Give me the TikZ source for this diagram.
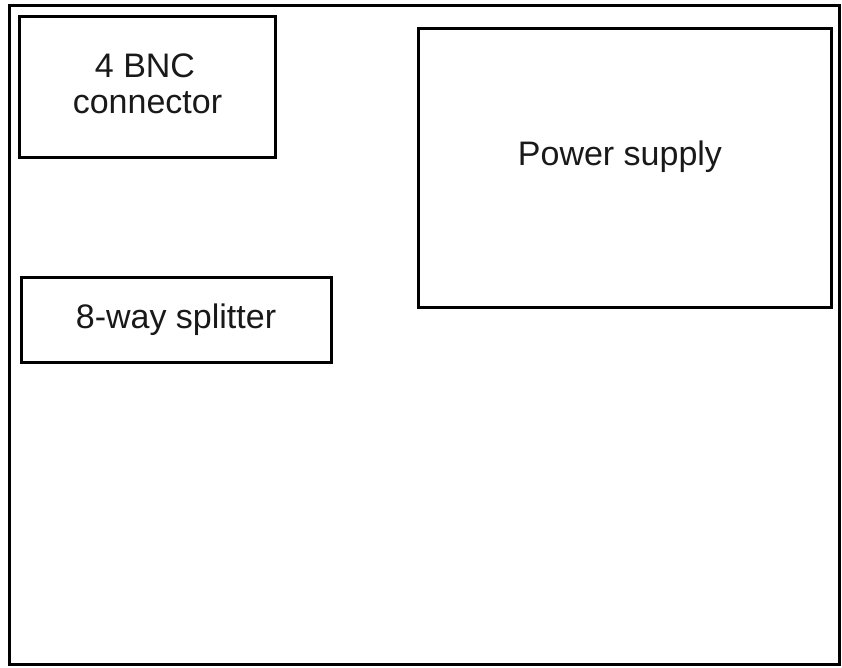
\documentclass[tikz,border=0pt]{standalone}
\usepackage{fontspec}
\setmainfont{Liberation Sans}
\begin{document}
\begin{tikzpicture}[x=1pt,y=-1pt,
  frame/.style={draw=black,line width=3pt},
  box/.style={draw=black,line width=3pt,fill=none},
  lbl/.style={inner sep=0pt,anchor=base,font=\fontsize{34}{36}\selectfont,text=black!90}]
\useasboundingbox (0,0) rectangle (842,667);
\fill[white] (0,0) rectangle (842,667);
\draw[frame] (9.5,5.5) rectangle (839.5,664.5);
\draw[box] (19.5,16) rectangle (275,157) coordinate (bncbr);
\draw[box] (21,277) rectangle (331,362);
\draw[box] (418.5,28) rectangle (831.5,307.5);
\node[lbl] (bnc1) at (145,77) {4 BNC};
\node[lbl] (bnc2) at (147.5,113) {connector};
\node[lbl] (split) at (176,328) {8-way splitter};
\node[lbl] (power) at (620,165) {Power supply};
\end{tikzpicture}
\end{document}
